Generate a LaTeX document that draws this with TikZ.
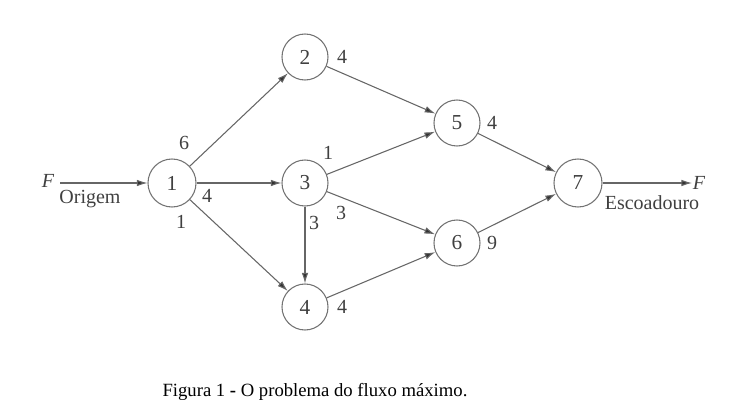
\documentclass[tikz,border=0pt]{standalone}
\usepackage{fontspec}
\setmainfont{Liberation Serif}
\usetikzlibrary{arrows.meta}

\tikzset{
  vertex/.style={circle, draw=black!55, line width=0.8pt, fill=white,
    minimum size=34.5pt, inner sep=0pt, text=black!75, font=\fontsize{16}{16}\selectfont},
  bigvertex/.style={vertex, minimum size=36pt},
  arc/.style={draw=black!60, line width=0.8pt, -{Latex[length=8pt,width=5pt,fill=black!80]}},
  capacity/.style={text=black!75, font=\fontsize{15}{15}\selectfont, inner sep=0pt}
}

\begin{document}
\begin{tikzpicture}[x=0.75pt,y=-0.75pt]
    \useasboundingbox (0,0) rectangle (731,420);
    % vertices
    \node[bigvertex] (n1) at (172,183) {1};
    \node[vertex] (n2) at (305,57) {2};
    \node[vertex] (n3) at (305,183) {3};
    \node[vertex] (n4) at (305,307) {4};
    \node[vertex] (n5) at (457,123) {5};
    \node[vertex] (n6) at (457,243) {6};
    \node[bigvertex] (n7) at (578,183) {7};
    % source and sink
    \node[capacity, font=\fontsize{15}{15}\selectfont\itshape] (fin) at (48,181) {F};
    \coordinate (fstart) at (60,183);
    \node[capacity] (orig) at (90,199) {Origem};
    \node[capacity, font=\fontsize{15}{15}\selectfont\itshape] (fout) at (699,183) {F};
    \coordinate (fend) at (692,183);
    \node[capacity] (esc) at (652,203) {Escoadouro};
    % arcs
    \draw[arc] (fstart) -- (n1);
    \draw[arc] (n1) -- (n2);
    \draw[arc] (n1) -- (n3);
    \draw[arc] (n1) -- (n4);
    \draw[arc] (n2) -- (n5);
    \draw[arc] (n3) -- (n5);
    \draw[arc] (n3) -- (n6);
    \draw[arc] (n3) -- (n4);
    \draw[arc] (n4) -- (n6);
    \draw[arc] (n5) -- (n7);
    \draw[arc] (n6) -- (n7);
    \draw[arc] (n7) -- (fend);
    % capacities
    \node[capacity] (c12) at (184,143) {6};
    \node[capacity] (c13) at (207,196) {4};
    \node[capacity] (c14) at (181,222) {1};
    \node[capacity] (c25) at (342,57) {4};
    \node[capacity] (c35) at (328,153) {1};
    \node[capacity] (c34) at (314,223) {3};
    \node[capacity] (c36) at (341,213) {3};
    \node[capacity] (c57) at (492,123) {4};
    \node[capacity] (c67) at (492,243) {9};
    \node[capacity] (c46) at (342,307) {4};
    % caption
    \node[font=\fontsize{14}{14}\selectfont] (caption) at (315,392) {Figura 1 \textbf{-} O problema do fluxo máximo.};
\end{tikzpicture}
\end{document}
